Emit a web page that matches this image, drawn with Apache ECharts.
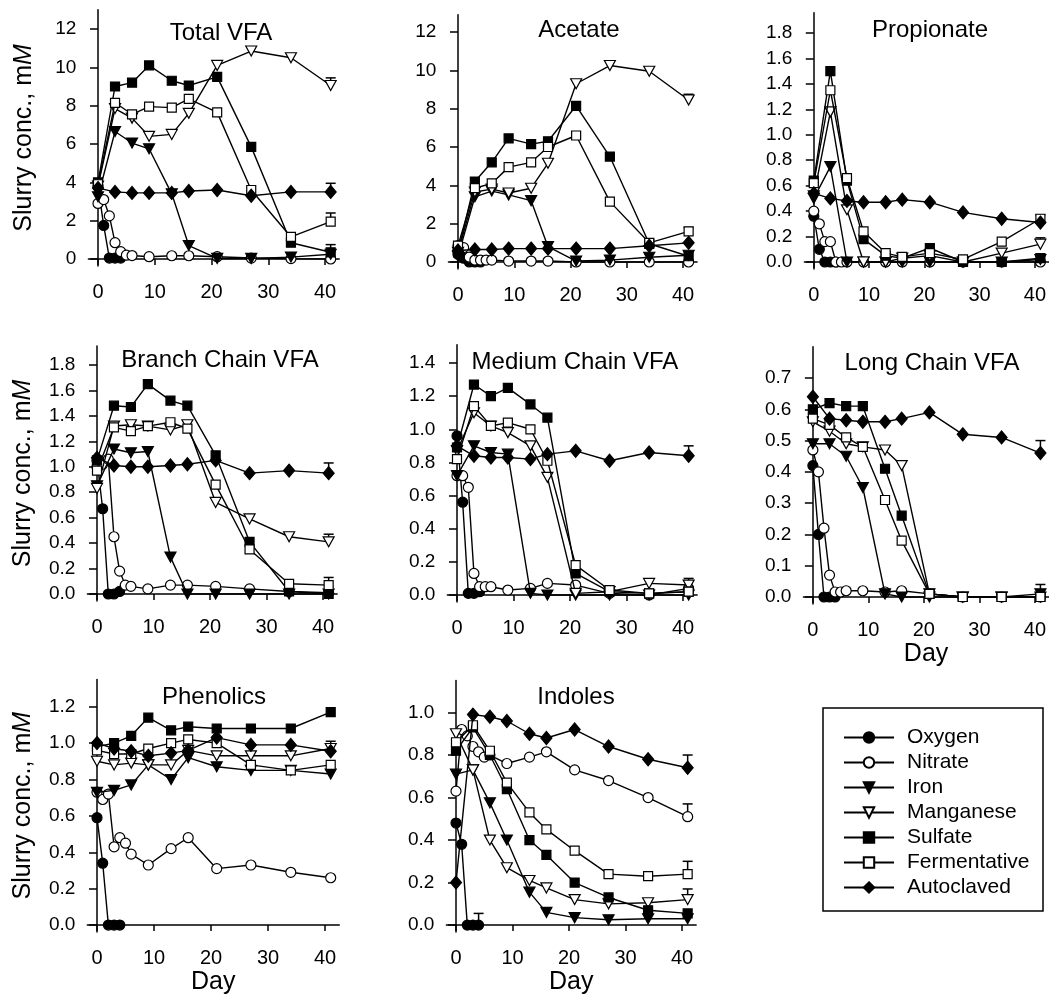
<!DOCTYPE html>
<html>
<head>
<meta charset="utf-8">
<script src="https://cdn.jsdelivr.net/npm/echarts@6/dist/echarts.min.js"></script>
<style>
html,body{margin:0;padding:0;background:#fff;}
#chart{width:1049px;height:996px;}
</style>
</head>
<body>
<div id="chart"></div>
<script>
// ---------------- DATA ----------------
const seriesNames = ['Oxygen','Nitrate','Iron','Manganese','Sulfate','Fermentative','Autoclaved'];
const dayOxygen  = [0,1,2,3,4];
const dayNitrate = [0,1,2,3,4,5,6,9,13,16,21,27,34,41];
const dayMain    = [0,3,6,9,13,16,21,27,34,41];
const xTicks = [0,10,20,30,40];

const yTicks12 = [0,2,4,6,8,10,12];
const yTicks18 = [0,0.2,0.4,0.6,0.8,1.0,1.2,1.4,1.6,1.8];
const yTicks14 = [0,0.2,0.4,0.6,0.8,1.0,1.2,1.4];
const yTicks07 = [0,0.1,0.2,0.3,0.4,0.5,0.6,0.7];
const yTicks12b = [0,0.2,0.4,0.6,0.8,1.0,1.2];
const yTicks10 = [0,0.2,0.4,0.6,0.8,1.0];

// Total VFA
const tvfaOxygen = [3.8,1.75,0.05,0.05,0.05];
const tvfaNitrate = [2.9,3.1,2.25,0.85,0.38,0.2,0.18,0.12,0.17,0.17,0.12,0.05,0.02,0.0];
const tvfaIron = [3.25,6.65,6.05,5.75,3.4,0.7,0.03,0.03,0.1,0.25];
const tvfaManganese = [3.8,7.85,7.35,6.4,6.5,7.6,10.1,10.85,10.5,9.05];
const tvfaSulfate = [4.0,9.0,9.2,10.1,9.3,9.05,9.5,5.85,0.85,0.35];
const tvfaFermentative = [3.9,8.15,7.55,7.95,7.9,8.35,7.65,3.6,1.15,1.95];
const tvfaAutoclaved = [3.7,3.5,3.45,3.45,3.45,3.55,3.6,3.3,3.5,3.5];
const tvfaErr = [[41,9.05,9.45],[41,1.95,2.4],[41,3.5,3.95],[41,0.35,0.75]];

// Acetate
const aceOxygen = [0.4,0.2,0.0,0.0,0.0];
const aceNitrate = [0.85,0.75,0.25,0.1,0.1,0.1,0.1,0.05,0.05,0.05,0.0,0.0,0.0,0.0];
const aceIron = [0.3,3.4,3.7,3.5,3.2,0.8,0.05,0.1,0.25,0.35];
const aceManganese = [0.5,3.65,3.8,3.6,3.85,5.15,9.3,10.25,9.95,8.45];
const aceSulfate = [0.5,4.2,5.2,6.45,6.15,6.3,8.15,5.5,0.95,0.3];
const aceFermentative = [0.85,3.85,4.1,4.95,5.2,6.0,6.6,3.15,1.0,1.6];
const aceAutoclaved = [0.6,0.65,0.65,0.7,0.7,0.7,0.7,0.7,0.85,1.0];
const aceErr = [[41,8.45,8.75],[41,1.6,1.8]];

// Propionate
const proOxygen = [0.36,0.1,0.0,0.0,0.0];
const proNitrate = [0.4,0.3,0.16,0.16,0.0,0.0,0.0,0.0,0.0,0.0,0.0,0.0,0.0,0.0];
const proIron = [0.5,0.75,0.0,0.0,0.0,0.0,0.0,0.0,0.0,0.02];
const proManganese = [0.52,1.18,0.41,0.0,0.0,0.03,0.05,0.0,0.07,0.14];
const proSulfate = [0.64,1.5,0.64,0.18,0.05,0.03,0.11,0.0,0.0,0.03];
const proFermentative = [0.62,1.35,0.66,0.24,0.07,0.04,0.07,0.02,0.16,0.34];
const proAutoclaved = [0.54,0.5,0.48,0.47,0.47,0.49,0.47,0.39,0.34,0.31];
const proErr = [[41,0.32,0.37],[41,0.14,0.19]];

// Branch Chain VFA
const bcOxygen = [1.05,0.67,0.0,0.0,0.02];
const bcNitrate = [1.0,1.02,1.06,0.45,0.18,0.07,0.06,0.04,0.07,0.07,0.06,0.04,0.02,0.01];
const bcIron = [0.85,1.14,1.11,1.12,0.29,0.0,0.0,0.0,0.0,0.0];
const bcManganese = [0.83,1.32,1.33,1.32,1.29,1.33,0.72,0.59,0.45,0.41];
const bcSulfate = [1.05,1.48,1.47,1.65,1.52,1.48,1.09,0.41,0.02,0.0];
const bcFermentative = [0.97,1.31,1.28,1.32,1.35,1.3,0.86,0.35,0.08,0.07];
const bcAutoclaved = [1.07,1.01,1.0,1.0,1.01,1.02,1.05,0.95,0.97,0.95];
const bcErr = [[41,0.96,1.03],[41,0.41,0.47],[41,0.07,0.13]];

// Medium Chain VFA
const mcOxygen = [0.96,0.56,0.01,0.01,0.02];
const mcNitrate = [0.72,0.72,0.65,0.13,0.05,0.05,0.05,0.03,0.04,0.07,0.06,0.01,0.0,0.04];
const mcIron = [0.72,0.9,0.86,0.85,0.01,0.0,0.0,0.0,0.0,0.0];
const mcManganese = [0.87,1.1,1.02,0.98,0.9,0.71,0.01,0.02,0.07,0.06];
const mcSulfate = [0.89,1.27,1.2,1.25,1.15,1.07,0.13,0.02,0.01,0.02];
const mcFermentative = [0.82,1.14,1.02,1.04,1.0,0.81,0.18,0.03,0.01,0.02];
const mcAutoclaved = [0.9,0.84,0.83,0.83,0.82,0.85,0.87,0.81,0.86,0.84];
const mcErr = [[41,0.84,0.9],[41,0.06,0.1]];

// Long Chain VFA
const lcOxygen = [0.42,0.2,0.0,0.0,0.0];
const lcNitrate = [0.47,0.4,0.22,0.07,0.016,0.016,0.02,0.02,0.016,0.02,0.01,0.0,0.0,0.0];
const lcIron = [0.49,0.49,0.45,0.35,0.01,0.0,0.0,0.0,0.0,0.01];
const lcManganese = [0.56,0.53,0.49,0.48,0.47,0.42,0.01,0.0,0.0,0.0];
const lcSulfate = [0.6,0.62,0.61,0.61,0.41,0.26,0.01,0.0,0.0,0.0];
const lcFermentative = [0.57,0.55,0.51,0.48,0.31,0.18,0.01,0.0,0.0,0.0];
const lcAutoclaved = [0.64,0.57,0.565,0.56,0.56,0.57,0.59,0.52,0.51,0.46];
const lcErr = [[41,0.46,0.5],[41,0.01,0.04]];

// Phenolics
const phOxygen = [0.59,0.34,0.0,0.0,0.0];
const phNitrate = [0.73,0.69,0.72,0.43,0.48,0.45,0.39,0.33,0.42,0.48,0.31,0.33,0.29,0.26];
const phIron = [0.73,0.74,0.77,0.88,0.8,0.92,0.87,0.85,0.85,0.83];
const phManganese = [0.9,0.88,0.89,0.88,0.88,0.96,0.93,0.93,0.93,0.97];
const phSulfate = [0.98,1.0,1.04,1.14,1.07,1.09,1.08,1.08,1.08,1.17];
const phFermentative = [0.96,0.94,0.94,0.97,1.0,1.02,1.0,0.88,0.85,0.88];
const phAutoclaved = [1.0,0.97,0.955,0.93,0.945,0.96,1.03,0.99,0.99,0.955];
const phErr = [[41,0.97,1.01]];

// Indoles
const inOxygen = [0.48,0.38,0.0,0.0,0.0];
const inNitrate = [0.63,0.92,0.89,0.84,0.815,0.79,0.8,0.76,0.79,0.815,0.73,0.68,0.6,0.51];
const inIron = [0.71,0.73,0.575,0.4,0.155,0.06,0.035,0.025,0.03,0.03];
const inManganese = [0.9,0.73,0.4,0.27,0.21,0.175,0.12,0.1,0.105,0.12];
const inSulfate = [0.82,0.93,0.8,0.64,0.4,0.33,0.2,0.13,0.07,0.055];
const inFermentative = [0.86,0.94,0.82,0.67,0.53,0.45,0.35,0.24,0.23,0.24];
const inAutoclaved = [0.2,0.99,0.98,0.96,0.9,0.88,0.92,0.84,0.78,0.74];
const inErr = [[41,0.74,0.8],[41,0.51,0.57],[41,0.24,0.3],[41,0.12,0.17],[4,0,0.055]];

// ---------------- LAYOUT ----------------
const FONT = '"Liberation Sans", Arial, Helvetica, sans-serif';
const X_MIN = -1.7, X_MAX = 42.5;
const panels = [
  {title:'Total VFA', vals:[tvfaOxygen,tvfaNitrate,tvfaIron,tvfaManganese,tvfaSulfate,tvfaFermentative,tvfaAutoclaved], err:tvfaErr, ticks:yTicks12, dec:0,
   g:{x0:98,x40:325,y0:259,yT:29,tv:12,top:13.0}, tp:[221,33], yName:true, xName:false},
  {title:'Acetate', vals:[aceOxygen,aceNitrate,aceIron,aceManganese,aceSulfate,aceFermentative,aceAutoclaved], err:aceErr, ticks:yTicks12, dec:0,
   g:{x0:458,x40:683,y0:262,yT:32,tv:12,top:12.9}, tp:[579,30], yName:false, xName:false},
  {title:'Propionate', vals:[proOxygen,proNitrate,proIron,proManganese,proSulfate,proFermentative,proAutoclaved], err:proErr, ticks:yTicks18, dec:1,
   g:{x0:814,x40:1040,y0:262,yT:33,tv:1.8,top:1.96}, tp:[930,30], yName:false, xName:false},
  {title:'Branch Chain VFA', vals:[bcOxygen,bcNitrate,bcIron,bcManganese,bcSulfate,bcFermentative,bcAutoclaved], err:bcErr, ticks:yTicks18, dec:1,
   g:{x0:97,x40:323,y0:594,yT:365,tv:1.8,top:1.95}, tp:[220,360], yName:true, xName:false},
  {title:'Medium Chain VFA', vals:[mcOxygen,mcNitrate,mcIron,mcManganese,mcSulfate,mcFermentative,mcAutoclaved], err:mcErr, ticks:yTicks14, dec:1,
   g:{x0:457,x40:683,y0:595,yT:363,tv:1.4,top:1.51}, tp:[575,362], yName:false, xName:false},
  {title:'Long Chain VFA', vals:[lcOxygen,lcNitrate,lcIron,lcManganese,lcSulfate,lcFermentative,lcAutoclaved], err:lcErr, ticks:yTicks07, dec:1,
   g:{x0:813,x40:1038,y0:597,yT:378,tv:0.7,top:0.8}, tp:[932,363], yName:false, xName:true},
  {title:'Phenolics', vals:[phOxygen,phNitrate,phIron,phManganese,phSulfate,phFermentative,phAutoclaved], err:phErr, ticks:yTicks12b, dec:1,
   g:{x0:97,x40:325,y0:928,yT:707,tv:1.2,top:1.35}, tp:[214,697], yName:true, xName:true},
  {title:'Indoles', vals:[inOxygen,inNitrate,inIron,inManganese,inSulfate,inFermentative,inAutoclaved], err:inErr, ticks:yTicks10, dec:1,
   g:{x0:456,x40:682,y0:929,yT:713,tv:1.0,top:1.15}, tp:[576,697], yName:false, xName:true}
];

const dayArrays = [dayOxygen, dayNitrate, dayMain, dayMain, dayMain, dayMain, dayMain];
const markerStyles = [
  {symbol:'circle', size:10, rotate:0, fill:'#000'},
  {symbol:'circle', size:10, rotate:0, fill:'#fff'},
  {symbol:'triangle', size:[11,10], rotate:180, fill:'#000'},
  {symbol:'triangle', size:[11,10], rotate:180, fill:'#fff'},
  {symbol:'rect', size:9, rotate:0, fill:'#000'},
  {symbol:'rect', size:9, rotate:0, fill:'#fff'},
  {symbol:'diamond', size:[11,13], rotate:0, fill:'#000'}
];

const grids = [], xAxes = [], yAxes = [], series = [], graphics = [];
const BELOW = 7;

panels.forEach((p, i) => {
  const g = p.g;
  const ppd = (g.x40 - g.x0) / 40;
  const ppu = (g.y0 - g.yT) / g.tv;
  const left = g.x0 + X_MIN * ppd;
  const width = (X_MAX - X_MIN) * ppd;
  const top = g.y0 - g.top * ppu;
  const height = (g.y0 + BELOW) - top;
  grids.push({left: left, top: top, width: width, height: height, containLabel: false});

  xAxes.push({
    gridIndex: i, type: 'value', min: X_MIN, max: X_MAX,
    axisLine: {onZero: true, lineStyle: {color: '#000', width: 1.5}},
    axisTick: {show: true, customValues: xTicks, length: 6, inside: false, lineStyle: {color: '#000', width: 1.5}},
    axisLabel: {customValues: xTicks, fontSize: 20, color: '#000', margin: 16, fontFamily: FONT},
    splitLine: {show: false},
    name: p.xName ? 'Day' : '', nameLocation: 'middle', nameGap: 38,
    nameTextStyle: {fontSize: 25, color: '#000', fontFamily: FONT}
  });
  yAxes.push({
    gridIndex: i, type: 'value', min: -BELOW / ppu, max: g.top,
    axisLine: {onZero: true, lineStyle: {color: '#000', width: 1.5}},
    axisTick: {show: true, customValues: p.ticks, length: 8, lineStyle: {color: '#000', width: 1.5}},
    axisLabel: {customValues: p.ticks, fontSize: 19, color: '#000', margin: 12, fontFamily: FONT,
      formatter: v => v.toFixed(p.dec)},
    splitLine: {show: false},
    name: p.yName ? 'Slurry conc., m{i|M}' : '', nameLocation: 'middle', nameGap: 52, nameRotate: 90,
    nameTextStyle: {fontSize: 25, color: '#000', fontFamily: FONT,
      rich: {i: {fontStyle: 'italic', fontSize: 25, color: '#000', fontFamily: FONT}}}
  });

  series.push({
    type: 'custom', name: 'err' + i, xAxisIndex: i, yAxisIndex: i, data: p.err, silent: true, z: 1,
    renderItem: (params, api) => {
      const a = api.coord([api.value(0), api.value(1)]);
      const b = api.coord([api.value(0), api.value(2)]);
      return {type: 'group', children: [
        {type: 'line', shape: {x1: a[0], y1: a[1], x2: b[0], y2: b[1]}, style: {stroke: '#000', lineWidth: 1.5}},
        {type: 'line', shape: {x1: b[0] - 5, y1: b[1], x2: b[0] + 5, y2: b[1]}, style: {stroke: '#000', lineWidth: 1.5}}
      ]};
    }
  });

  seriesNames.forEach((name, k) => {
    const m = markerStyles[k];
    const days = dayArrays[k];
    series.push({
      type: 'line', name: name, xAxisIndex: i, yAxisIndex: i,
      data: days.map((d, j) => [d, p.vals[k][j]]),
      symbol: m.symbol, symbolSize: m.size, symbolRotate: m.rotate, showAllSymbol: true,
      itemStyle: {color: m.fill, borderColor: '#000', borderWidth: 1.2},
      lineStyle: {color: '#000', width: 1.4},
      emphasis: {disabled: true}, z: 2 + k, clip: false
    });
  });

  graphics.push({type: 'text', x: p.tp[0], y: p.tp[1],
    style: {text: p.title, fontSize: 24, fontFamily: FONT, fill: '#000', align: 'center', verticalAlign: 'middle'}});
});

graphics.push({type: 'rect', shape: {x: 823, y: 708, width: 220, height: 203},
  style: {fill: 'none', stroke: '#000', lineWidth: 1.5}});

const chart = echarts.init(document.getElementById('chart'), null, {renderer: 'canvas'});
chart.setOption({
  animation: false,
  backgroundColor: '#fff',
  textStyle: {fontFamily: FONT},
  grid: grids, xAxis: xAxes, yAxis: yAxes, series: series, graphic: graphics,
  legend: {
    data: seriesNames, orient: 'vertical', left: 838, top: 722,
    itemWidth: 50, itemHeight: 13, itemGap: 4, selectedMode: false,
    textStyle: {fontSize: 21, lineHeight: 21, color: '#000', fontFamily: FONT, padding: [0, 0, 0, 8]}
  }
});
</script>
</body>
</html>
